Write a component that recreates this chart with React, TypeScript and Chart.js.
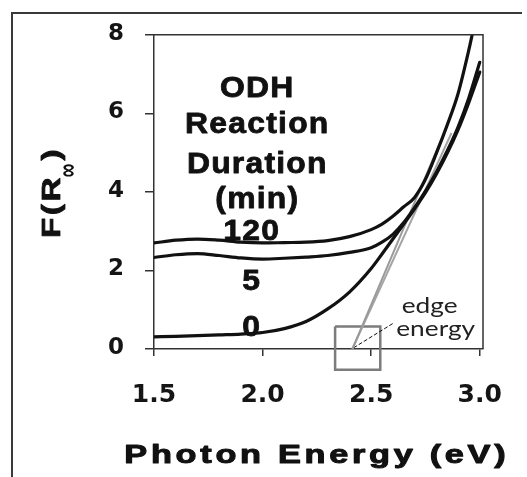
import React, { useEffect, useRef } from 'react';
import { Chart, registerables } from 'chart.js';

Chart.register(...registerables);

// ---- data ----
const ENERGY = [1.5, 1.6, 1.7, 1.8, 1.9, 2.0, 2.1, 2.2, 2.3, 2.4, 2.5, 2.55, 2.6, 2.65, 2.7, 2.75, 2.8, 2.85, 2.9, 2.95, 3.0];
const ENERGY_120 = [1.5, 1.6, 1.7, 1.8, 1.9, 2.0, 2.1, 2.2, 2.3, 2.4, 2.5, 2.55, 2.6, 2.65, 2.7, 2.75, 2.8, 2.85, 2.9, 2.95, 2.965];
const F_120 = [2.7, 2.77, 2.8, 2.77, 2.72, 2.7, 2.71, 2.72, 2.76, 2.86, 3.04, 3.18, 3.38, 3.62, 3.86, 4.32, 4.98, 5.7, 6.5, 7.62, 8.0];
const F_5 = [2.33, 2.4, 2.43, 2.38, 2.32, 2.29, 2.31, 2.34, 2.38, 2.46, 2.58, 2.72, 2.92, 3.22, 3.6, 4.02, 4.5, 5.04, 5.65, 6.4, 7.3];
const F_0 = [0.31, 0.32, 0.34, 0.36, 0.38, 0.42, 0.52, 0.7, 1.02, 1.45, 2.05, 2.42, 2.8, 3.18, 3.57, 3.98, 4.45, 4.98, 5.58, 6.28, 7.05];

const TANGENT_A_E = [2.414, 2.82];
const TANGENT_A_F = [0, 5.3];
const TANGENT_B_E = [2.413, 2.87];
const TANGENT_B_F = [0, 5.5];
const POINTER_E = [2.419, 2.603];
const POINTER_F = [0.03, 0.66];
const BOX_E = [2.334, 2.542, 2.542, 2.334, 2.334];
const BOX_F = [0.57, 0.57, -0.53, -0.53, 0.57];

const X_TICKS = [1.5, 2.0, 2.5, 3.0];
const Y_TICKS = [0, 2, 4, 6, 8];
const X_TITLE = 'Photon Energy (eV)';
const Y_TITLE_MAIN = 'F(R';
const Y_TITLE_SUB = '\u221E';
const Y_TITLE_END = ')';
const LEGEND_LINES = ['ODH', 'Reaction', 'Duration', '(min)'];
const CURVE_LABELS = ['120', '5', '0'];
const EDGE_LINES = ['edge', 'energy'];

// label anchor positions (data coordinates)
const LEGEND_E = 1.973;
const LEGEND_F = [6.415, 5.49, 4.49, 3.585];
const CURVE_LABEL_E = 1.947;
const CURVE_LABEL_F = [2.776, 1.506, 0.32];
const EDGE_E = [2.769, 2.797];
const EDGE_F = [0.914, 0.32];

const pts = (xs: number[], ys: number[]) => xs.map((x, i) => ({ x, y: ys[i] }));

function drawText(
  ctx: CanvasRenderingContext2D,
  text: string,
  x: number,
  y: number,
  font: string,
  sx: number,
  ls: number,
  align: 'center' | 'left' | 'right',
  color: string,
  stroke = 0
) {
  ctx.save();
  ctx.font = font;
  (ctx as any).letterSpacing = '0px';
  const n = Array.from(text).length;
  const w0 = ctx.measureText(text).width;
  const w = (w0 + ls * (n - 1)) * sx;
  (ctx as any).letterSpacing = ls + 'px';
  ctx.fillStyle = color;
  ctx.strokeStyle = color;
  ctx.textBaseline = 'alphabetic';
  ctx.textAlign = 'left';
  const left = align === 'center' ? x - w / 2 : align === 'right' ? x - w : x;
  ctx.translate(left, y);
  ctx.scale(sx, 1);
  ctx.fillText(text, 0, 0);
  if (stroke > 0) {
    ctx.lineWidth = stroke;
    ctx.lineJoin = 'round';
    ctx.strokeText(text, 0, 0);
  }
  ctx.restore();
  return w;
}

const decorPlugin = {
  id: 'decor',
  afterDraw(chart: any) {
    const ctx: CanvasRenderingContext2D = chart.ctx;
    const { left, right, top, bottom } = chart.chartArea;
    const xs = chart.scales.x;
    const ys = chart.scales.y;

    // outer frame (top + left)
    ctx.save();
    ctx.strokeStyle = '#3a3a3a';
    ctx.lineWidth = 2;
    ctx.beginPath();
    ctx.moveTo(12, 477);
    ctx.lineTo(12, 13);
    ctx.lineTo(522, 13);
    ctx.stroke();

    // plot box top + right
    ctx.strokeStyle = '#333';
    ctx.lineWidth = 1.5;
    ctx.beginPath();
    ctx.moveTo(left, top);
    ctx.lineTo(right, top);
    ctx.lineTo(right, bottom);
    ctx.stroke();
    ctx.restore();

    const boldArial = (s: number) => `bold ${s}px "Liberation Sans", Arial, sans-serif`;

    // legend title block
    LEGEND_LINES.forEach((t, i) => {
      drawText(ctx, t, xs.getPixelForValue(LEGEND_E), ys.getPixelForValue(LEGEND_F[i]), boldArial(29), 1.1, 1.1, 'center', '#111', 0.8);
    });
    CURVE_LABELS.forEach((t, i) => {
      drawText(ctx, t, xs.getPixelForValue(CURVE_LABEL_E), ys.getPixelForValue(CURVE_LABEL_F[i]), boldArial(29), 1.1, 1.1, 'center', '#111', 0.8);
    });
    EDGE_LINES.forEach((t, i) => {
      drawText(ctx, t, xs.getPixelForValue(EDGE_E[i]), ys.getPixelForValue(EDGE_F[i]), '21px Lato, "Open Sans", sans-serif', 1.25, 0, 'center', '#222');
    });

    // x axis title
    drawText(ctx, X_TITLE, 315, 463, boldArial(26), 1.32, 2.8, 'center', '#111', 1);

    // y axis title (rotated, reads bottom to top)
    ctx.save();
    ctx.translate(60, 238);
    ctx.rotate(-Math.PI / 2);
    const w = drawText(ctx, Y_TITLE_MAIN, 0, 0, boldArial(25.5), 1.3, 2, 'left', '#111', 0.8);
    // subscript infinity, below the baseline
    ctx.save();
    ctx.translate(w + 7, 9);
    ctx.scale(1, 1.55);
    ctx.font = boldArial(19);
    ctx.fillStyle = '#111';
    ctx.textAlign = 'center';
    ctx.textBaseline = 'middle';
    ctx.fillText(Y_TITLE_SUB, 0, 0);
    ctx.restore();
    drawText(ctx, Y_TITLE_END, w + 17, 0, boldArial(25.5), 1.3, 0, 'left', '#111', 0.8);
    ctx.restore();
  },
};

export default function App() {
  const ref = useRef<HTMLCanvasElement>(null);
  useEffect(() => {
    const canvas = ref.current!;
    const curve = (data: any[]) => ({
      data,
      borderColor: '#111',
      borderWidth: 3.2,
      pointRadius: 0,
      cubicInterpolationMode: 'monotone' as const,
      borderCapStyle: 'round' as const,
      borderJoinStyle: 'round' as const,
    });
    const chart = new Chart(canvas, {
      type: 'line',
      data: {
        datasets: [
          { label: '120', ...curve(pts(ENERGY_120, F_120)) },
          { label: '5', ...curve(pts(ENERGY, F_5)) },
          { label: '0', ...curve(pts(ENERGY, F_0)) },
          { label: 'tangent A', data: pts(TANGENT_A_E, TANGENT_A_F), borderColor: '#9a9a9a', borderWidth: 2, pointRadius: 0 },
          { label: 'tangent B', data: pts(TANGENT_B_E, TANGENT_B_F), borderColor: '#a5a5a5', borderWidth: 2, pointRadius: 0 },
          { label: 'pointer', data: pts(POINTER_E, POINTER_F), borderColor: '#111', borderWidth: 1, borderDash: [4, 2], pointRadius: 0 },
          { label: 'box', data: pts(BOX_E, BOX_F), borderColor: '#7c7c7c', borderWidth: 2.5, pointRadius: 0, clip: false as any, tension: 0 },
        ] as any,
      },
      options: {
        responsive: false,
        animation: false,
        layout: { padding: { top: 34, right: 44, left: 0, bottom: 0 } },
        plugins: {
          legend: { display: false },
          tooltip: { enabled: false },
        },
        scales: {
          x: {
            type: 'linear',
            min: 1.5,
            max: 3.015,
            afterBuildTicks: (s: any) => {
              s.ticks = X_TICKS.map((v) => ({ value: v }));
            },
            afterFit: (s: any) => {
              s.height = 128;
            },
            grid: { drawOnChartArea: false, drawTicks: true, tickLength: 7, color: '#333', lineWidth: 1.5 },
            border: { display: true, color: '#333', width: 1.5 },
            ticks: {
              callback: (v: any) => Number(v).toFixed(1),
              font: { family: '"DejaVu Sans"', weight: 'bold', size: 25 },
              color: '#151515',
              padding: 24,
              maxRotation: 0,
            },
          },
          y: {
            type: 'linear',
            min: 0,
            max: 8,
            afterBuildTicks: (s: any) => {
              s.ticks = Y_TICKS.map((v) => ({ value: v }));
            },
            afterFit: (s: any) => {
              s.width = 154;
            },
            grid: { drawOnChartArea: false, drawTicks: true, tickLength: 9, color: '#333', lineWidth: 1.5 },
            border: { display: true, color: '#333', width: 1.5 },
            ticks: {
              callback: (v: any) => String(v),
              font: { family: '"DejaVu Sans"', weight: 'bold', size: 23 },
              color: '#151515',
              padding: 21,
              labelOffset: -1,
            },
          },
        },
      },
      plugins: [decorPlugin],
    });
    return () => chart.destroy();
  }, []);
  return (
    <div style={{ position: 'fixed', left: 0, top: 0, width: 527, height: 477, background: '#fff' }}>
      <canvas ref={ref} width={527} height={477} style={{ display: 'block' }} />
    </div>
  );
}
